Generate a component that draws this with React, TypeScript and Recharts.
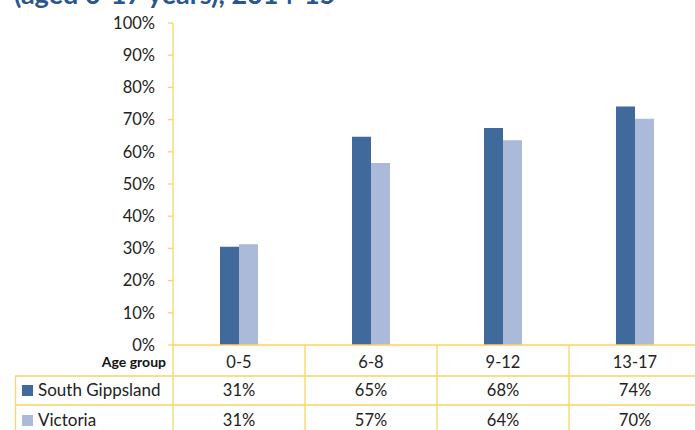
import React from "react";
import { BarChart, Bar, XAxis, YAxis } from "recharts";

const categories = ["0-5", "6-8", "9-12", "13-17"];
const southGippsland = [30.5, 64.7, 67.4, 74.1];
const victoria = [31.3, 56.5, 63.6, 70.3];
const sgLabels = ["31%", "65%", "68%", "74%"];
const vicLabels = ["31%", "57%", "64%", "70%"];
const yTicks = [0, 10, 20, 30, 40, 50, 60, 70, 80, 90, 100];
const seriesNames = ["South Gippsland", "Victoria"];
const titleText = "(aged 0-17 years), 2014-15";

const SG_COLOR = "#40699C";
const VIC_COLOR = "#AABAD8";
const GOLD = "#F8D564";
const FONT = "Lato, 'Open Sans', sans-serif";
const BAND = 132;

const data = categories.map((c, i) => ({
  cat: c,
  sg: southGippsland[i],
  vic: victoria[i],
  sgLabel: sgLabels[i],
  vicLabel: vicLabels[i],
}));

const TableTick = (props: any) => {
  const { x, y, index } = props;
  const d = data[index];
  return (
    <g>
      <text x={x} y={y + 23} textAnchor="middle" fontSize={16.5} fill="#222" fontFamily={FONT}>
        {d.cat}
      </text>
      <text x={x} y={y + 51} textAnchor="middle" fontSize={16.5} fill="#222" fontFamily={FONT}>
        {d.sgLabel}
      </text>
      <text x={x} y={y + 81} textAnchor="middle" fontSize={16.5} fill="#222" fontFamily={FONT}>
        {d.vicLabel}
      </text>
      <line x1={x + BAND / 2} x2={x + BAND / 2} y1={y} y2={y + 90} stroke={GOLD} strokeWidth={1.3} />
      {index === 0 && (
        <line x1={x - BAND / 2} x2={x - BAND / 2} y1={y} y2={y + 90} stroke={GOLD} strokeWidth={1.3} />
      )}
    </g>
  );
};

export default function App() {
  return (
    <div style={{ position: "absolute", left: 0, top: 0, width: 695, height: 430, overflow: "hidden", background: "#fff" }}>
      <svg width={695} height={430} style={{ position: "absolute", left: 0, top: 0 }}>
        <text x={14} y={4} fontSize={27} fontWeight="bold" fill="#2A5690" fontFamily={FONT}>
          {titleText}
        </text>
        <text x={166} y={367} textAnchor="end" fontSize={14} fontWeight="bold" fill="#111" fontFamily={FONT}>
          Age group
        </text>
        <line x1={15} x2={695} y1={376} y2={376} stroke={GOLD} strokeWidth={1.3} />
        <line x1={15} x2={695} y1={405} y2={405} stroke={GOLD} strokeWidth={1.3} />
        <line x1={15.5} x2={15.5} y1={376} y2={430} stroke={GOLD} strokeWidth={1.3} />
        <rect x={22} y={385} width={11} height={11} fill={SG_COLOR} />
        <text x={38} y={396} fontSize={17} fill="#222" fontFamily={FONT}>{seriesNames[0]}</text>
        <rect x={22} y={415} width={11} height={11} fill={VIC_COLOR} />
        <text x={38} y={426} fontSize={17} fill="#222" fontFamily={FONT}>{seriesNames[1]}</text>
      </svg>
      <div style={{ position: "absolute", left: 0, top: 0 }}>
        <BarChart
          width={701}
          height={430}
          data={data}
          margin={{ top: 23, right: 0, left: 113, bottom: 0 }}
          barGap={0}
        >
          <YAxis
            width={60}
            domain={[0, 100]}
            ticks={yTicks}
            interval={0}
            tickFormatter={(v: number) => `${v}%`}
            axisLine={{ stroke: GOLD, strokeWidth: 1.3 }}
            tickLine={{ stroke: GOLD, strokeWidth: 1.3 }}
            tickSize={5}
            tickMargin={13}
            tick={{ fontSize: 16.5, fill: "#222", fontFamily: FONT }}
          />
          <XAxis
            dataKey="cat"
            height={85}
            interval={0}
            axisLine={{ stroke: GOLD, strokeWidth: 1.3 }}
            tickLine={false}
            tickSize={0}
            tickMargin={0}
            tick={<TableTick />}
          />
          <Bar dataKey="sg" fill={SG_COLOR} barSize={19} isAnimationActive={false} />
          <Bar dataKey="vic" fill={VIC_COLOR} barSize={19} isAnimationActive={false} />
        </BarChart>
      </div>
    </div>
  );
}
